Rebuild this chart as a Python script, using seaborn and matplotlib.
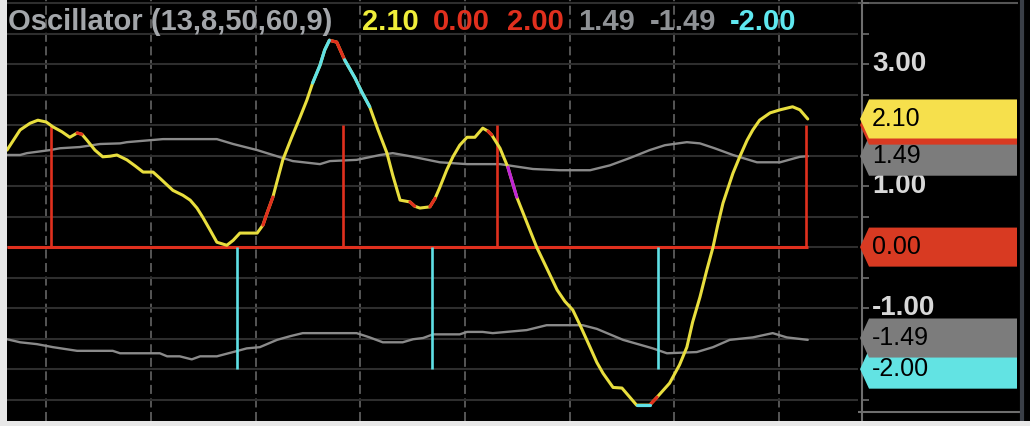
import numpy as np
import pandas as pd
import seaborn as sns
import matplotlib.pyplot as plt
from matplotlib.patches import Polygon

# oscillator line (bar index, value) and its colour state per segment
osc_x = [12.5, 15.0, 16.9, 18.4, 20.0, 21.3, 23.0, 24.5, 25.9, 26.8,
         27.8, 29.3, 30.8, 32.2, 33.5, 35.4, 37.0, 38.5, 40.4, 41.7,
         44.2, 46.1, 47.5, 48.8, 49.9, 51.3, 52.6, 54.5, 55.7, 57.0,
         60.3, 61.4, 62.2, 63.3, 65.2, 66.9, 68.5, 69.8, 70.9, 72.3,
         73.2, 74.1, 75.5, 77.0, 79.0, 80.3, 81.8, 83.4, 85.1, 86.2,
         87.6, 89.5, 90.4, 91.4, 93.3, 94.3, 95.2, 96.5, 97.7, 99.0,
         100.4, 101.9, 103.4, 104.4, 105.1, 106.7, 108.2, 109.9, 111.8, 113.7,
         115.6, 117.6, 119.1, 120.6, 122.0, 123.9, 125.2, 126.4, 128.3, 130.0,
         131.5, 132.8, 135.3, 136.7, 139.1, 141.0, 142.4, 143.5, 144.9, 146.2,
         147.4, 148.3, 149.3, 151.2, 152.5, 153.9, 155.0, 156.3, 158.3, 160.2,
         162.6, 164.0, 165.5]
osc_y = [1.59, 1.92, 2.03, 2.08, 2.05, 1.97, 1.89, 1.80, 1.87, 1.85,
         1.75, 1.59, 1.48, 1.49, 1.51, 1.43, 1.33, 1.23, 1.23, 1.13,
         0.93, 0.85, 0.77, 0.64, 0.49, 0.28, 0.08, 0.03, 0.11, 0.23,
         0.23, 0.36, 0.56, 0.82, 1.43, 1.80, 2.13, 2.41, 2.69, 2.98,
         3.23, 3.39, 3.36, 3.07, 2.77, 2.54, 2.30, 1.92, 1.54, 1.18,
         0.77, 0.74, 0.67, 0.64, 0.66, 0.80, 0.98, 1.26, 1.48, 1.67,
         1.80, 1.80, 1.95, 1.90, 1.84, 1.62, 1.31, 0.82, 0.41, 0.00,
         -0.34, -0.70, -0.89, -1.03, -1.28, -1.64, -1.89, -2.07, -2.30, -2.31,
         -2.46, -2.59, -2.59, -2.46, -2.23, -1.93, -1.64, -1.23, -0.82, -0.38,
         0.00, 0.36, 0.72, 1.21, 1.48, 1.75, 1.92, 2.08, 2.20, 2.25,
         2.30, 2.25, 2.10]
# n = normal, r = turn, c = extreme, p = cross
osc_state = ("n" * 8 + "r" + "n" * 22 + "rr" + "n" * 5 + "ccc" + "rr" + "ccc"
             + "n" * 5 + "r" + "nn" + "r" + "n" * 8 + "r" + "nn" + "p"
             + "n" * 14 + "cr" + "n" * 20)

# upper / lower bands
up_x = [12.5, 15.0, 16.3, 20.7, 22.6, 26.4, 30.3, 34.1, 35.4, 42.3,
        52.6, 55.7, 60.3, 63.3, 67.1, 72.3, 74.2, 79.3, 83.8, 86.2,
        89.5, 95.2, 100.4, 106.7, 113.0, 118.1, 123.9, 127.7, 131.5, 135.3,
        138.2, 142.4, 144.9, 147.7, 151.2, 155.8, 160.2, 164.0, 165.5]
up_y = [1.51, 1.51, 1.54, 1.59, 1.62, 1.64, 1.69, 1.70, 1.72, 1.77,
        1.77, 1.69, 1.59, 1.51, 1.41, 1.36, 1.41, 1.43, 1.51, 1.54,
        1.49, 1.39, 1.36, 1.36, 1.28, 1.26, 1.26, 1.34, 1.46, 1.59,
        1.67, 1.72, 1.70, 1.62, 1.51, 1.39, 1.39, 1.48, 1.49]
lo_x = [12.5, 15.0, 18.2, 21.3, 25.9, 32.7, 34.1, 41.7, 43.1, 45.5,
        47.8, 49.4, 52.6, 55.7, 58.3, 60.8, 64.1, 66.6, 69.0, 79.3,
        81.8, 84.3, 88.1, 90.1, 92.0, 93.9, 99.0, 100.4, 103.4, 105.3,
        111.8, 115.6, 122.5, 125.2, 130.2, 135.9, 138.6, 144.3, 147.4, 150.6,
        155.0, 158.8, 161.5, 165.5]
lo_y = [-1.51, -1.56, -1.59, -1.64, -1.70, -1.70, -1.74, -1.74, -1.79, -1.79,
        -1.84, -1.79, -1.79, -1.72, -1.66, -1.64, -1.52, -1.46, -1.41, -1.41,
        -1.48, -1.56, -1.56, -1.51, -1.49, -1.43, -1.43, -1.39, -1.39, -1.41,
        -1.36, -1.28, -1.28, -1.34, -1.52, -1.66, -1.74, -1.72, -1.64, -1.52,
        -1.48, -1.41, -1.48, -1.52]

# signals
buy_x = [21.0, 76.7, 106.1, 165.1]
sell_x = [56.4, 93.7, 136.9]
signal_level = 2.0
last_bar = 165.5

title = "Oscillator (13,8,50,60,9)"
header_values = [2.10, 0.00, 2.00, 1.49, -1.49, -2.00]
scale_labels = [3.0, 1.0, -1.0]       # the others sit under the flags
flag_values = [1.49, 2.00, 2.10, -2.00, -1.49, 0.00]   # drawing order
flag_text = [True, False, True, True, True, True]      # 2.00 is covered by 2.10

YEL = "#e8de3e"
RED = "#e0301e"
CYA = "#5fe0e6"
GRY = "#8a8a8a"
state_pal = {"turn": RED, "extreme": CYA, "cross": "#c024d8"}
state_name = {"r": "turn", "c": "extreme", "p": "cross"}
header_colors = ["#f0ee3a", RED, RED, "#8f9296", "#8f9296", "#5fe8f0"]
header_px = [362, 433, 507, 578, 650, 730]
flag_colors = ["#7c7c7c", "#d83a22", "#f6e04c", "#62e3e3", "#7c7c7c", "#d83a22"]

YLIM = (-2.85, 4.05)

sns.set_style("dark", {"axes.facecolor": "black", "figure.facecolor": "#e8e8e8"})
plt.rcParams['font.family'] = ['Liberation Sans', 'DejaVu Sans']

fig = plt.figure(figsize=(10.30, 4.26), dpi=100)
ax = fig.add_axes([7 / 1030, 5 / 426, 851 / 1030, 421 / 426])
sax = fig.add_axes([858 / 1030, 5 / 426, 172 / 1030, 421 / 426])

# main panel
ax.set_xlim(12.5, 175.1)
ax.set_ylim(*YLIM)
ax.set_xticks(np.arange(20, 161, 20))
ax.set_yticks(np.arange(-2.5, 4.01, 0.5))
ax.grid(False)
ax.xaxis.grid(True, color='#5c5c5c', lw=1.3, ls=(0, (5, 2.5)))
ax.yaxis.grid(True, color='#2e2e2e', lw=1.5)
ax.tick_params(length=0, labelbottom=False, labelleft=False)
for s in ax.spines.values():
    s.set_visible(False)

sns.lineplot(x=up_x, y=up_y, ax=ax, color=GRY, lw=1.7, estimator=None, sort=False)
sns.lineplot(x=lo_x, y=lo_y, ax=ax, color=GRY, lw=1.7, estimator=None, sort=False)

ax.hlines(0, 12.5, last_bar, color=RED, lw=2.2, zorder=3)
ax.vlines(buy_x, 0, signal_level, color=RED, lw=1.9, zorder=3)
ax.vlines(sell_x, 0, -signal_level, color=CYA, lw=1.9, zorder=3)

sns.lineplot(x=osc_x, y=osc_y, ax=ax, color=YEL, lw=2.2, estimator=None, sort=False, zorder=4)

# coloured runs of the oscillator
rows = []
seg = 0
i = 0
while i < len(osc_state) - 1:
    st = osc_state[i]
    if st == "n":
        i += 1
        continue
    j = i
    while j + 1 < len(osc_state) - 1 and osc_state[j + 1] == st:
        j += 1
    for k in range(i, j + 2):
        rows.append({"x": osc_x[k], "y": osc_y[k], "state": state_name[st], "seg": seg})
    seg += 1
    i = j + 1
seg_df = pd.DataFrame(rows)
sns.lineplot(data=seg_df, x="x", y="y", hue="state", units="seg", estimator=None,
             sort=False, palette=state_pal, lw=2.3, legend=False, ax=ax, zorder=5)
ax.set_xlabel("")
ax.set_ylabel("")

# header
fig.text(8 / 1030, 1 - 22 / 426, title, color="#a3a6aa", fontsize=21,
         fontweight="bold", va="center")
for v, c, px in zip(header_values, header_colors, header_px):
    fig.text(px / 1030, 1 - 22 / 426, f"{v:.2f}", color=c, fontsize=21,
             fontweight="bold", va="center")

# price scale panel
sax.set_xlim(0, 172)
sax.set_ylim(*YLIM)
sax.set_facecolor("black")
sax.grid(False)
sax.set_xticks([])
sax.set_yticks([])
for s in sax.spines.values():
    s.set_visible(False)
sax.vlines(4, YLIM[0], YLIM[1], color="#6e6e6e", lw=1.5)
sax.hlines(-2.70, 0, 162, color="#6e6e6e", lw=1.5)
sax.hlines(4.0, 0, 160, color="#555555", lw=1.5)
sax.hlines(np.arange(-2.5, 4.01, 0.5), 4, 11, color="#6e6e6e", lw=1.2)
sax.vlines(164, YLIM[0], YLIM[1], color="#3a3f47", lw=3)
for v in scale_labels:
    sax.text(14, v, f"{v:.2f}", color="#d8d8d8", fontsize=20, fontweight="bold",
             va="center", zorder=2)

h = 0.32
for z, (v, c, show) in enumerate(zip(flag_values, flag_colors, flag_text)):
    poly = Polygon([(2, v), (11, v + h), (159, v + h), (159, v - h), (11, v - h)],
                   closed=True, facecolor=c, edgecolor="none", zorder=3 + z)
    sax.add_patch(poly)
    if show:
        sax.text(14, v, f"{v:.2f}", color="black", fontsize=18, va="center", zorder=3 + z)

fig.savefig("out.png", dpi=100, facecolor=fig.get_facecolor())
